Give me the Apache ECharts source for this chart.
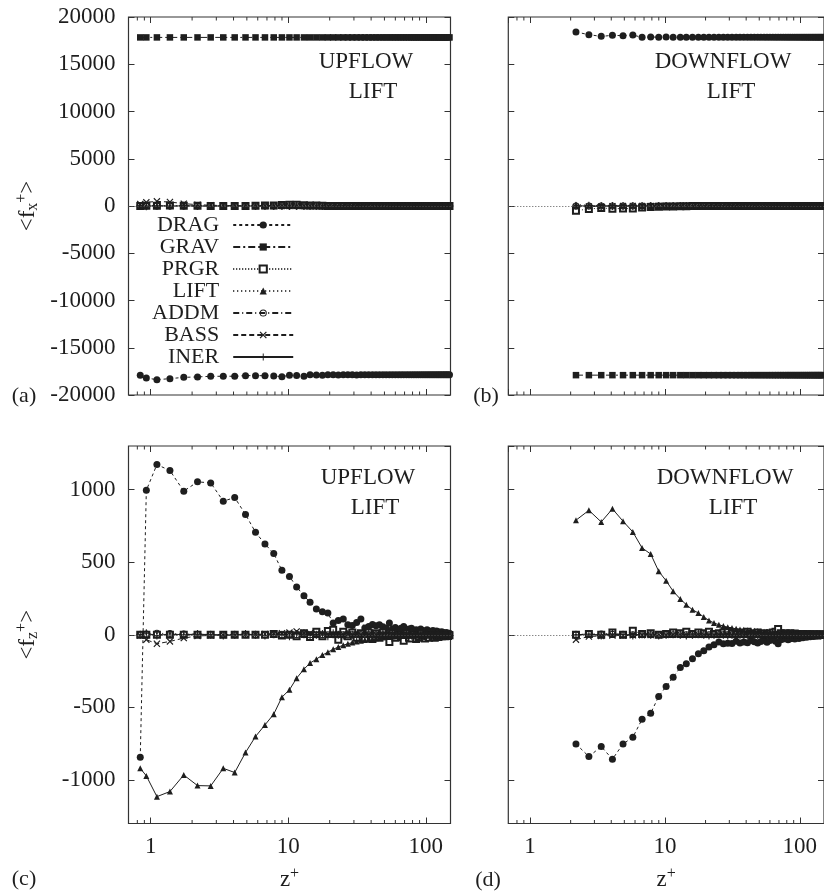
<!DOCTYPE html>
<html><head><meta charset="utf-8">
<script src="https://cdn.jsdelivr.net/npm/echarts@6.0.0/dist/echarts.min.js"></script>
<style>html,body{margin:0;padding:0;background:#fff}#c{width:824px;height:892px}</style>
</head><body><div id="c"></div>
<script>
// ---------------- data ----------------
const seriesNames = ['DRAG', 'GRAV', 'PRGR', 'LIFT', 'ADDM', 'BASS', 'INER'];
const xTickLabels = ['1', '10', '100'];
const minorTicks = [0.8, 0.9, 2, 3, 4, 5, 6, 7, 8, 9, 20, 30, 40, 50, 60, 70, 80, 90];
const zRange = [0.69, 151];
const fxRange = [-20000, 20000];
const fxStep = 5000;
const fzRange = [-1300, 1300];

// wall distance z+ of the points (upflow starts closer to the wall)
const zUp = [0.84, 0.93, 1.11, 1.38, 1.74, 2.19, 2.73, 3.37, 4.08, 4.89,
  5.78, 6.77, 7.84, 8.99, 10.2, 11.5, 13.0, 14.4, 16.0, 17.7,
  19.4, 21.2, 23.1, 25.1, 27.1, 29.2, 31.4, 33.7, 36.0, 38.4,
  40.9, 43.4, 46.0, 48.7, 51.4, 54.3, 57.1, 60.0, 63.0, 66.0,
  69.0, 72.2, 75.4, 78.6, 81.8, 85.0, 88.3, 91.7, 95.1, 98.5,
  102.0, 105.5, 109.0, 112.5, 116.1, 119.7, 123.3, 126.9, 130.5, 134.1,
  137.7, 141.3, 144.9, 148.5];
const zDown = [2.19, 2.73, 3.37, 4.08, 4.89,
  5.78, 6.77, 7.84, 8.99, 10.2, 11.5, 13.0, 14.4, 16.0, 17.7,
  19.4, 21.2, 23.1, 25.1, 27.1, 29.2, 31.4, 33.7, 36.0, 38.4,
  40.9, 43.4, 46.0, 48.7, 51.4, 54.3, 57.1, 60.0, 63.0, 66.0,
  69.0, 72.2, 75.4, 78.6, 81.8, 85.0, 88.3, 91.7, 95.1, 98.5,
  102.0, 105.5, 109.0, 112.5, 116.1, 119.7, 123.3, 126.9, 130.5, 134.1,
  137.7, 141.3, 144.9, 148.5];

// (a) upflow, <fx+>
const upX_DRAG = [-17920, -18200, -18380, -18270, -18130, -18090, -18020, -18020, -18010, -17950,
  -17950, -17960, -17990, -18060, -17920, -17930, -18020, -17850, -17880, -17900,
  -17870, -17860, -17880, -17870, -17860, -17870, -17880, -17860, -17870, -17860,
  -17870, -17860, -17870, -17860, -17870, -17860, -17870, -17860, -17870, -17860,
  -17870, -17860, -17870, -17860, -17870, -17860, -17870, -17860, -17870, -17860,
  -17870, -17860, -17870, -17860, -17870, -17860, -17870, -17860, -17870, -17860,
  -17870, -17860, -17870, -17860];
const upX_GRAV = [17840, 17840, 17840, 17840, 17840, 17840, 17840, 17840, 17840, 17840,
  17840, 17840, 17840, 17840, 17840, 17840, 17840, 17840, 17840, 17840,
  17840, 17840, 17840, 17840, 17840, 17840, 17840, 17840, 17840, 17840,
  17840, 17840, 17840, 17840, 17840, 17840, 17840, 17840, 17840, 17840,
  17840, 17840, 17840, 17840, 17840, 17840, 17840, 17840, 17840, 17840,
  17840, 17840, 17840, 17840, 17840, 17840, 17840, 17840, 17840, 17840,
  17840, 17840, 17840, 17840];
const upX_PRGR = [0, 20, 30, 40, 30, 20, 10, 0, 0, 10,
  20, 40, 60, 100, 140, 120, 90, 60, 40, 20,
  10, 0, -10, 0, 10, 0, -10, 0, 10, 0,
  0, -10, 0, 10, 0, -10, 0, 10, 0, -10,
  0, 10, 0, -10, 0, 10, 0, -10, 0, 10,
  0, -10, 0, 10, 0, -10, 0, 10, 0, -10,
  0, 10, 0, -10];
const upX_LIFT = [0, 10, 20, 10, 0, 10, 0, 0, 10, 0,
  0, 0, 10, 0, 0, 0, 0, 0, 0, 0,
  0, 0, 0, 0, 0, 0, 0, 0, 0, 0,
  0, 0, 0, 0, 0, 0, 0, 0, 0, 0,
  0, 0, 0, 0, 0, 0, 0, 0, 0, 0,
  0, 0, 0, 0, 0, 0, 0, 0, 0, 0,
  0, 0, 0, 0];
const upX_ADDM = [0, 10, 10, 0, 0, 10, 0, 0, 0, 0,
  0, 0, 0, 0, 0, 0, 0, 0, 0, 0,
  0, 0, 0, 0, 0, 0, 0, 0, 0, 0,
  0, 0, 0, 0, 0, 0, 0, 0, 0, 0,
  0, 0, 0, 0, 0, 0, 0, 0, 0, 0,
  0, 0, 0, 0, 0, 0, 0, 0, 0, 0,
  0, 0, 0, 0];
const upX_BASS = [200, 390, 490, 420, 250, 140, 80, 50, 30, 20,
  10, 0, 0, 0, 0, 0, 0, 0, 0, 0,
  0, 0, 0, 0, 0, 0, 0, 0, 0, 0,
  0, 0, 0, 0, 0, 0, 0, 0, 0, 0,
  0, 0, 0, 0, 0, 0, 0, 0, 0, 0,
  0, 0, 0, 0, 0, 0, 0, 0, 0, 0,
  0, 0, 0, 0];
const upX_INER = [0, -20, 30, -10, 20, 0, -10, 10, 0, 0,
  0, 0, 0, 0, 0, 0, 0, 0, 0, 0,
  0, 0, 0, 0, 0, 0, 0, 0, 0, 0,
  0, 0, 0, 0, 0, 0, 0, 0, 0, 0,
  0, 0, 0, 0, 0, 0, 0, 0, 0, 0,
  0, 0, 0, 0, 0, 0, 0, 0, 0, 0,
  0, 0, 0, 0];

// (b) downflow, <fx+>
const dnX_DRAG = [18410, 18130, 17950, 18060, 18020, 18090, 17850, 17880, 17870, 17890,
  17860, 17870, 17860, 17870, 17860, 17870, 17860, 17870, 17860, 17870,
  17860, 17870, 17860, 17870, 17860, 17870, 17860, 17870, 17860, 17870,
  17860, 17870, 17860, 17870, 17860, 17870, 17860, 17870, 17860, 17870,
  17860, 17870, 17860, 17870, 17860, 17870, 17860, 17870, 17860, 17870,
  17860, 17870, 17860, 17870, 17860, 17870, 17860, 17870, 17860];
const dnX_GRAV = [-17900, -17900, -17900, -17900, -17900, -17900, -17900, -17900, -17900, -17900,
  -17900, -17900, -17900, -17900, -17900, -17900, -17900, -17900, -17900, -17900,
  -17900, -17900, -17900, -17900, -17900, -17900, -17900, -17900, -17900, -17900,
  -17900, -17900, -17900, -17900, -17900, -17900, -17900, -17900, -17900, -17900,
  -17900, -17900, -17900, -17900, -17900, -17900, -17900, -17900, -17900, -17900,
  -17900, -17900, -17900, -17900, -17900, -17900, -17900, -17900, -17900];
const dnX_PRGR = [-490, -320, -210, -280, -270, -270, -150, -100, -80, -60,
  -40, -30, -20, -10, 0, 0, 0, 0, 0, 0,
  0, 0, 0, 0, 0, 0, 0, 0, 0, 0,
  0, 0, 0, 0, 0, 0, 0, 0, 0, 0,
  0, 0, 0, 0, 0, 0, 0, 0, 0, 0,
  0, 0, 0, 0, 0, 0, 0, 0, 0];
const dnX_LIFT = [150, 80, 50, 40, 30, 20, 10, 0, 0, 0,
  0, 0, 0, 0, 0, 0, 0, 0, 0, 0,
  0, 0, 0, 0, 0, 0, 0, 0, 0, 0,
  0, 0, 0, 0, 0, 0, 0, 0, 0, 0,
  0, 0, 0, 0, 0, 0, 0, 0, 0, 0,
  0, 0, 0, 0, 0, 0, 0, 0, 0];
const dnX_ADDM = [0, 0, 0, 0, 0, 0, 0, 0, 0, 0,
  0, 0, 0, 0, 0, 0, 0, 0, 0, 0,
  0, 0, 0, 0, 0, 0, 0, 0, 0, 0,
  0, 0, 0, 0, 0, 0, 0, 0, 0, 0,
  0, 0, 0, 0, 0, 0, 0, 0, 0, 0,
  0, 0, 0, 0, 0, 0, 0, 0, 0];
const dnX_BASS = [-100, -60, -40, -20, -10, 0, 0, 0, 0, 0,
  0, 0, 0, 0, 0, 0, 0, 0, 0, 0,
  0, 0, 0, 0, 0, 0, 0, 0, 0, 0,
  0, 0, 0, 0, 0, 0, 0, 0, 0, 0,
  0, 0, 0, 0, 0, 0, 0, 0, 0, 0,
  0, 0, 0, 0, 0, 0, 0, 0, 0];
const dnX_INER = [0, 20, -10, 10, 0, 0, 0, 0, 0, 0,
  0, 0, 0, 0, 0, 0, 0, 0, 0, 0,
  0, 0, 0, 0, 0, 0, 0, 0, 0, 0,
  0, 0, 0, 0, 0, 0, 0, 0, 0, 0,
  0, 0, 0, 0, 0, 0, 0, 0, 0, 0,
  0, 0, 0, 0, 0, 0, 0, 0, 0];

// (c) upflow, <fz+>
const upZ_DRAG = [-843, 995, 1172, 1131, 989, 1053, 1046, 920, 945, 828,
  706, 625, 559, 444, 402, 329, 269, 223, 177, 159,
  149, 81, 99, 108, 69, 64, 85, 108, 46, 57,
  70, 62, 69, 55, 45, 81, 40, 50, 35, 45,
  57, 30, 40, 45, 30, 35, 25, 40, 30, 20,
  35, 25, 20, 30, 15, 25, 20, 10, 20, 15,
  10, 15, 5, 10];
const upZ_GRAV = [0, 0, 0, 0, 0, 0, 0, 0, 0, 0,
  0, 0, 0, 0, 0, 0, 0, 0, 0, 0,
  0, 0, 0, 0, 0, 0, 0, 0, 0, 0,
  0, 0, 0, 0, 0, 0, 0, 0, 0, 0,
  0, 0, 0, 0, 0, 0, 0, 0, 0, 0,
  0, 0, 0, 0, 0, 0, 0, 0, 0, 0,
  0, 0, 0, 0];
const upZ_PRGR = [0, 0, 0, 0, 0, 0, 0, 0, 0, 0,
  0, 0, 5, -5, 0, -10, 10, -15, 20, -10,
  25, 35, -35, 20, -10, 15, -20, 10, -25, 15,
  -30, 10, -20, 15, -10, -50, 10, -20, 5, -15,
  -42, 10, -20, -25, 5, -30, -15, 10, -20, -25,
  -10, -20, 5, -15, -20, -10, -15, -5, -10, -5,
  -10, -5, -8, -3];
const upZ_LIFT = [-920, -972, -1115, -1080, -966, -1039, -1041, -920, -949, -811,
  -701, -621, -547, -430, -379, -299, -237, -195, -168, -140,
  -120, -100, -85, -72, -62, -54, -47, -41, -36, -31,
  -27, -24, -21, -18, -16, -14, -12, -11, -10, -9,
  -8, -7, -7, -6, -6, -5, -5, -4, -4, -4,
  -3, -3, -3, -3, -2, -2, -2, -2, -2, -1,
  -1, -1, -1, -1];
const upZ_ADDM = [0, 5, 10, 8, 5, 3, 2, 0, 0, 0,
  0, 0, 0, 0, 0, 0, 0, 0, 0, 0,
  0, 0, 0, 0, 0, 0, 0, 0, 0, 0,
  0, 0, 0, 0, 0, 0, 0, 0, 0, 0,
  0, 0, 0, 0, 0, 0, 0, 0, 0, 0,
  0, 0, 0, 0, 0, 0, 0, 0, 0, 0,
  0, 0, 0, 0];
const upZ_BASS = [-5, -34, -62, -46, -23, -8, -5, -3, -2, 0,
  2, 5, 8, 10, 15, 23, 12, 10, 8, 6,
  5, 4, 3, 2, 2, 1, 1, 0, 0, 0,
  0, 0, 0, 0, 0, 0, 0, 0, 0, 0,
  0, 0, 0, 0, 0, 0, 0, 0, 0, 0,
  0, 0, 0, 0, 0, 0, 0, 0, 0, 0,
  0, 0, 0, 0];
const upZ_INER = [0, 10, -5, 5, 0, 5, 0, -5, 0, 5,
  0, -5, 5, 0, -10, 5, 10, -5, 0, 5,
  -10, 10, 0, -5, 5, 0, -10, 5, 0, 5,
  0, -5, 0, 5, 0, -5, 0, 5, 0, -5,
  0, 5, 0, -5, 0, 5, 0, -5, 0, 5,
  0, -5, 0, 5, 0, -5, 0, 5, 0, -5,
  0, 5, 0, -5];

// (d) downflow, <fz+>
const dnZ_DRAG = [-752, -839, -770, -857, -752, -706, -582, -540, -425, -356,
  -292, -226, -200, -166, -131, -110, -85, -69, -50, -62,
  -58, -60, -45, -57, -50, -55, -40, -48, -57, -46,
  -38, -52, -40, -30, -45, -62, -35, -30, -25, -35,
  -28, -22, -30, -18, -25, -15, -20, -12, -18, -10,
  -14, -8, -12, -6, -10, -5, -8, -4, -5];
const dnZ_GRAV = [0, 0, 0, 0, 0, 0, 0, 0, 0, 0,
  0, 0, 0, 0, 0, 0, 0, 0, 0, 0,
  0, 0, 0, 0, 0, 0, 0, 0, 0, 0,
  0, 0, 0, 0, 0, 0, 0, 0, 0, 0,
  0, 0, 0, 0, 0, 0, 0, 0, 0, 0,
  0, 0, 0, 0, 0, 0, 0, 0, 0];
const dnZ_PRGR = [0, 5, 0, 16, 0, 28, 5, 10, 0, 5,
  15, 10, 20, 5, 15, 10, 20, 5, 10, 15,
  25, 10, 5, 15, 10, 20, 5, 10, 15, 5,
  10, 5, 10, 15, 20, 39, 10, 5, 10, 5,
  10, 5, 8, 4, 6, 3, 5, 2, 4, 2,
  3, 2, 2, 1, 2, 1, 1, 0, 1];
const dnZ_LIFT = [789, 857, 777, 867, 782, 708, 598, 556, 437, 372,
  300, 246, 207, 172, 150, 122, 99, 81, 69, 60,
  52, 46, 41, 37, 34, 31, 29, 27, 25, 23,
  21, 20, 19, 18, 17, 16, 15, 14, 13, 12,
  12, 11, 10, 10, 9, 9, 8, 8, 7, 7,
  6, 6, 5, 5, 5, 4, 4, 4, 3];
const dnZ_ADDM = [0, 3, 5, 3, 2, 0, 0, 0, 0, 0,
  0, 0, 0, 0, 0, 0, 0, 0, 0, 0,
  0, 0, 0, 0, 0, 0, 0, 0, 0, 0,
  0, 0, 0, 0, 0, 0, 0, 0, 0, 0,
  0, 0, 0, 0, 0, 0, 0, 0, 0, 0,
  0, 0, 0, 0, 0, 0, 0, 0, 0];
const dnZ_BASS = [-34, -12, -8, -5, -6, -4, -3, -2, -2, -1,
  0, 0, 0, 0, 0, 0, 0, 0, 0, 0,
  0, 0, 0, 0, 0, 0, 0, 0, 0, 0,
  0, 0, 0, 0, 0, 0, 0, 0, 0, 0,
  0, 0, 0, 0, 0, 0, 0, 0, 0, 0,
  0, 0, 0, 0, 0, 0, 0, 0, 0];
const dnZ_INER = [0, 5, -5, 5, 0, -5, 5, 0, -5, 0,
  5, 0, -5, 0, 5, 0, -5, 0, 5, 0,
  -5, 0, 5, 0, -5, 0, 5, 0, -5, 0,
  5, 0, -5, 0, 5, 0, -5, 0, 5, 0,
  -5, 0, 5, 0, -5, 0, 5, 0, -5, 0,
  5, 0, -5, 0, 5, 0, -5, 0, 5];

// ---------------- styling ----------------
const FONT = "'Liberation Serif','Times New Roman',serif";
const INK = '#1e1e1e';
const FRAME = '#333';
const RING = 'path://M5,0A5,5 0 1,1 5,10A5,5 0 1,1 5,0Z M5,1.4A3.6,3.6 0 1,0 5,8.6A3.6,3.6 0 1,0 5,1.4Z M5,3.7A1.3,1.3 0 1,1 5,6.3A1.3,1.3 0 1,1 5,3.7Z';
const CROSS = 'path://M0,1.2L1.2,0L5,3.8L8.8,0L10,1.2L6.2,5L10,8.8L8.8,10L5,6.2L1.2,10L0,8.8L3.8,5Z';
const PLUS = 'path://M4.35,0L5.65,0L5.65,4.35L10,4.35L10,5.65L5.65,5.65L5.65,10L4.35,10L4.35,5.65L0,5.65L0,4.35L4.35,4.35Z';
const markStyle = {
  DRAG: {symbol: 'circle', size: 7, dash: [3, 3]},
  GRAV: {symbol: 'rect', size: 6.5, dash: [7, 3, 2, 3]},
  PRGR: {symbol: 'emptyRect', size: 6, dash: [1, 2]},
  LIFT: {symbol: 'triangle', size: 6, dash: [1, 3]},
  ADDM: {symbol: RING, size: 7, dash: [6, 3, 1, 3]},
  BASS: {symbol: CROSS, size: 7, dash: [5, 3]},
  INER: {symbol: PLUS, size: 8, dash: 'solid'}
};

const panels = [
  {z: zUp, yr: fxRange, step: fxStep, yName: '<f{sub|x}{sup|+}>', liftSolid: false,
   vals: {DRAG: upX_DRAG, GRAV: upX_GRAV, PRGR: upX_PRGR, LIFT: upX_LIFT, ADDM: upX_ADDM, BASS: upX_BASS, INER: upX_INER}},
  {z: zDown, yr: fxRange, step: fxStep, yName: '', liftSolid: false,
   vals: {DRAG: dnX_DRAG, GRAV: dnX_GRAV, PRGR: dnX_PRGR, LIFT: dnX_LIFT, ADDM: dnX_ADDM, BASS: dnX_BASS, INER: dnX_INER}},
  {z: zUp, yr: fzRange, step: null, yName: '<f{sub|z}{sup|+}>', liftSolid: true,
   vals: {DRAG: upZ_DRAG, GRAV: upZ_GRAV, PRGR: upZ_PRGR, LIFT: upZ_LIFT, ADDM: upZ_ADDM, BASS: upZ_BASS, INER: upZ_INER}},
  {z: zDown, yr: fzRange, step: null, yName: '', liftSolid: true,
   vals: {DRAG: dnZ_DRAG, GRAV: dnZ_GRAV, PRGR: dnZ_PRGR, LIFT: dnZ_LIFT, ADDM: dnZ_ADDM, BASS: dnZ_BASS, INER: dnZ_INER}}
];

const gridBoxes = [
  {left: 128.5, top: 17, width: 322, height: 378},
  {left: 508.3, top: 17, width: 322, height: 378},
  {left: 128.5, top: 446, width: 322, height: 378},
  {left: 508.3, top: 446, width: 322, height: 378}
];

const richSS = {
  sub: {fontFamily: FONT, fontSize: 16, color: INK, padding: [10, 0, 0, 0]},
  sup: {fontFamily: FONT, fontSize: 16, color: INK, padding: [0, 0, 12, 0]}
};

function xLabel(v) {
  for (const s of xTickLabels) { if (Math.abs(Number(s) - v) < 1e-6 * Number(s)) return s; }
  return '';
}

const grids = [], xAxes = [], yAxes = [], series = [];
panels.forEach((p, g) => {
  grids.push(Object.assign({show: true, borderColor: FRAME, borderWidth: 1.2, backgroundColor: 'transparent'}, gridBoxes[g]));
  const bottomRow = g >= 2, leftCol = g % 2 === 0;
  const tick = {show: true, inside: true, length: 6, lineStyle: {color: FRAME, width: 1}};
  const noLine = {show: false, onZero: false};
  xAxes.push({
    type: 'log', logBase: 10, gridIndex: g, min: zRange[0], max: zRange[1], position: 'bottom',
    axisLine: noLine, axisTick: tick, splitLine: {show: false},
    axisLabel: {show: bottomRow, margin: 12, fontFamily: FONT, fontSize: 23, color: INK,
      showMinLabel: false, showMaxLabel: false, formatter: xLabel},
    name: bottomRow ? 'z{sup|+}' : '', nameLocation: 'middle', nameGap: 42,
    nameTextStyle: {fontFamily: FONT, fontSize: 23, color: INK, rich: richSS}
  });
  xAxes.push({
    type: 'log', logBase: 10, gridIndex: g, min: zRange[0], max: zRange[1], position: 'top',
    axisLine: noLine, axisTick: tick, splitLine: {show: false}, axisLabel: {show: false}
  });
  const yBase = {type: 'value', gridIndex: g, min: p.yr[0], max: p.yr[1],
    axisLine: noLine, axisTick: tick, splitLine: {show: false}};
  if (p.step) yBase.interval = p.step;
  yAxes.push(Object.assign({}, yBase, {
    position: 'left',
    axisLabel: {show: leftCol, margin: 13, fontFamily: FONT, fontSize: 23, color: INK,
      formatter: v => String(v), showMinLabel: !bottomRow, showMaxLabel: !bottomRow},
    name: p.yName, nameLocation: 'middle', nameRotate: 90, nameGap: 87,
    nameTextStyle: {fontFamily: FONT, fontSize: 23, color: INK, rich: richSS}
  }));
  yAxes.push(Object.assign({}, yBase, {position: 'right', axisLabel: {show: false}}));

  seriesNames.forEach((name) => {
    const st = markStyle[name];
    const ys = p.vals[name];
    const dash = (name === 'LIFT' && p.liftSolid) ? 'solid' : st.dash;
    const s = {
      type: 'line', name: name, xAxisIndex: 2 * g, yAxisIndex: 2 * g,
      data: p.z.map((x, i) => [x, ys[i]]),
      symbol: st.symbol, symbolSize: st.size, showSymbol: true,
      lineStyle: {color: INK, width: 1, type: dash},
      itemStyle: {color: INK, borderColor: INK, borderWidth: name === 'PRGR' ? 1 : 0},
      emphasis: {disabled: true}, animation: false, clip: false, silent: true
    };
    if (name === 'GRAV') {
      s.markLine = {silent: true, symbol: ['none', 'none'], label: {show: false}, animation: false,
        lineStyle: {type: [1, 2], color: '#555', width: 1}, data: [{yAxis: 0}]};
    }
    series.push(s);
  });

  series.push({
    type: 'custom', name: 'minor-ticks-' + g, xAxisIndex: 2 * g, yAxisIndex: 2 * g,
    data: minorTicks.map(v => [v, p.yr[0], p.yr[1]]),
    encode: {x: 0, y: 1}, clip: false, silent: true, animation: false, z: 5,
    renderItem: function (params, api) {
      const x = api.value(0);
      const b = api.coord([x, api.value(1)]);
      const t = api.coord([x, api.value(2)]);
      const st = {stroke: FRAME, lineWidth: 1};
      return {type: 'group', children: [
        {type: 'line', shape: {x1: b[0], y1: b[1], x2: b[0], y2: b[1] - 3.5}, style: st},
        {type: 'line', shape: {x1: t[0], y1: t[1], x2: t[0], y2: t[1] + 3.5}, style: st}
      ]};
    }
  });
});

function txt(s, x, y, size) {
  return {type: 'text', x: x, y: y, silent: true,
    style: {text: s, fontFamily: FONT, fontSize: size, fill: INK,
      align: 'center', verticalAlign: 'middle', textAlign: 'center', textVerticalAlign: 'middle'}};
}

const chart = echarts.init(document.getElementById('c'), null, {renderer: 'canvas'});
chart.setOption({
  animation: false,
  backgroundColor: '#fff',
  grid: grids, xAxis: xAxes, yAxis: yAxes, series: series,
  legend: {
    data: seriesNames, orient: 'vertical', left: 152, top: 214, align: 'right',
    itemWidth: 60, itemHeight: 9, itemGap: 0, padding: 0,
    textStyle: {fontFamily: FONT, fontSize: 22, color: INK, lineHeight: 22, padding: [0, 9, 0, 0]}
  },
  graphic: [
    txt('UPFLOW', 366, 62, 23), txt('LIFT', 373, 92, 23),
    txt('DOWNFLOW', 723, 62, 23), txt('LIFT', 731, 92, 23),
    txt('UPFLOW', 368, 478, 23), txt('LIFT', 375, 508, 23),
    txt('DOWNFLOW', 725, 478, 23), txt('LIFT', 733, 508, 23),
    txt('(a)', 24, 396, 22), txt('(b)', 486, 396, 22),
    txt('(c)', 24, 879, 22), txt('(d)', 488, 880, 22)
  ]
});
</script>
</body></html>
